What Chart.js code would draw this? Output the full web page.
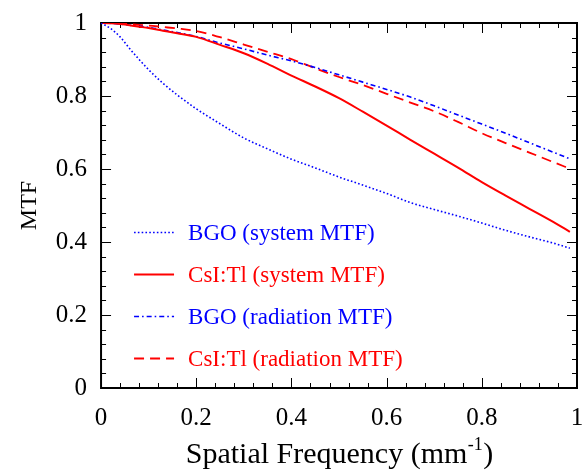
<!DOCTYPE html>
<html>
<head>
<meta charset="utf-8">
<script src="https://cdn.jsdelivr.net/npm/chart.js@4/dist/chart.umd.min.js"></script>
<style>
  html, body { margin: 0; padding: 0; background: #fff; }
  #wrap { width: 584px; height: 474px; }
</style>
</head>
<body>
<div id="wrap"><canvas id="myChart" width="584" height="474"></canvas></div>
<script>
'use strict';
// spatial frequency (mm^-1)
let freq = [0, 0.02, 0.04, 0.06, 0.08, 0.1, 0.13, 0.16, 0.2, 0.25, 0.3, 0.35, 0.4, 0.45, 0.5,
  0.55, 0.6, 0.65, 0.7, 0.75, 0.8, 0.85, 0.9, 0.95, 0.985];

let bgoSystem = [1.0, 0.985, 0.962, 0.930, 0.900, 0.872, 0.835, 0.803, 0.765, 0.724, 0.685, 0.655, 0.627, 0.603, 0.578,
  0.556, 0.533, 0.508, 0.489, 0.471, 0.452, 0.432, 0.414, 0.397, 0.383];
let csiSystem = [1.0, 0.999, 0.997, 0.994, 0.990, 0.986, 0.979, 0.972, 0.962, 0.940, 0.917, 0.888, 0.856, 0.826, 0.794,
  0.757, 0.719, 0.680, 0.642, 0.604, 0.564, 0.527, 0.491, 0.455, 0.428];
let bgoRadiation = [1.0, 0.999, 0.997, 0.994, 0.991, 0.988, 0.981, 0.974, 0.963, 0.945, 0.929, 0.912, 0.896, 0.878, 0.858,
  0.838, 0.818, 0.797, 0.773, 0.748, 0.723, 0.698, 0.672, 0.646, 0.628];
let csiRadiation = [1.0, 1.0, 0.999, 0.997, 0.995, 0.993, 0.989, 0.985, 0.978, 0.961, 0.941, 0.921, 0.901, 0.876, 0.852,
  0.830, 0.806, 0.782, 0.758, 0.729, 0.698, 0.671, 0.645, 0.619, 0.601];

let seriesNames = ['BGO (system MTF)', 'CsI:Tl (system MTF)', 'BGO (radiation MTF)', 'CsI:Tl (radiation MTF)'];
let xTicks = [0, 0.2, 0.4, 0.6, 0.8, 1];
let yTicks = [0, 0.2, 0.4, 0.6, 0.8, 1];

let serif = "'Liberation Serif', 'Times New Roman', serif";

function pts(vals) {
  let out = [];
  for (let i = 0; i < freq.length; i++) {
    out.push({ x: freq[i], y: vals[i] });
  }
  return out;
}

// box with inward ticks on all four sides
let frameTicks = {
  id: 'frameTicks',
  beforeDatasetsDraw(chart) {
    let ctx = chart.ctx;
    let a = chart.chartArea;
    let xs = chart.scales.x;
    let ys = chart.scales.y;
    ctx.save();
    ctx.strokeStyle = '#000';
    ctx.lineWidth = 1;
    for (let k = 0; k <= 25; k++) {
      let v = k * 0.04;
      let major = k % 5 === 0;
      let len = major ? 10 : 5;
      let px = Math.round(xs.getPixelForValue(v)) + 0.5;
      let py = Math.round(ys.getPixelForValue(v)) + 0.5;
      ctx.beginPath();
      ctx.moveTo(px, a.bottom); ctx.lineTo(px, a.bottom - len);
      ctx.moveTo(px, a.top); ctx.lineTo(px, a.top + len);
      ctx.moveTo(a.left, py); ctx.lineTo(a.left + len, py);
      ctx.moveTo(a.right, py); ctx.lineTo(a.right - len, py);
      ctx.stroke();
    }
    ctx.lineWidth = 2;
    ctx.strokeRect(a.left, a.top, a.right - a.left, a.bottom - a.top);
    ctx.restore();
  },
  afterDraw(chart) {
    // x axis title with superscript
    let ctx = chart.ctx;
    let a = chart.chartArea;
    let main = 'Spatial Frequency (mm';
    let sup = '-1';
    let end = ')';
    ctx.save();
    ctx.fillStyle = '#000';
    ctx.textBaseline = 'alphabetic';
    ctx.font = '30px ' + serif;
    let w1 = ctx.measureText(main).width;
    let w3 = ctx.measureText(end).width;
    ctx.font = '18px ' + serif;
    let w2 = ctx.measureText(sup).width;
    let x0 = (a.left + a.right) / 2 - (w1 + w2 + w3) / 2;
    let base = 463;
    ctx.font = '30px ' + serif;
    ctx.fillText(main, x0, base);
    ctx.fillText(end, x0 + w1 + w2 + 1, base);
    ctx.font = '18px ' + serif;
    ctx.fillText(sup, x0 + w1 + 0.5, base - 13);
    ctx.restore();
  }
};

// legend drawn inside the plot area
let innerLegend = {
  id: 'innerLegend',
  afterDatasetsDraw(chart) {
    let ctx = chart.ctx;
    let a = chart.chartArea;
    let h = a.bottom - a.top;
    ctx.save();
    ctx.font = '23px ' + serif;
    ctx.textBaseline = 'middle';
    chart.data.datasets.forEach(function (ds, i) {
      let y = Math.round(a.top + h * (0.573 + 0.1145 * i)) + 0.5;
      let x1 = a.left + 33;
      ctx.strokeStyle = ds.borderColor;
      ctx.lineWidth = ds.borderWidth;
      ctx.setLineDash(ds.borderDash || []);
      ctx.beginPath();
      ctx.moveTo(x1, y);
      ctx.lineTo(x1 + 40, y);
      ctx.stroke();
      ctx.setLineDash([]);
      ctx.fillStyle = ds.borderColor;
      ctx.fillText(ds.label, a.left + 87, y + 1);
    });
    ctx.restore();
  }
};

let ctx = document.getElementById('myChart').getContext('2d');
let myChart = new Chart(ctx, {
  type: 'line',
  data: {
    datasets: [{
      label: seriesNames[0],
      data: pts(bgoSystem),
      borderColor: '#0000ff',
      borderWidth: 1.6,
      borderDash: [1.6, 2.2]
    }, {
      label: seriesNames[1],
      data: pts(csiSystem),
      borderColor: '#ff0000',
      borderWidth: 2
    }, {
      label: seriesNames[2],
      data: pts(bgoRadiation),
      borderColor: '#0000ff',
      borderWidth: 1.6,
      borderDash: [5, 3, 1.6, 3]
    }, {
      label: seriesNames[3],
      data: pts(csiRadiation),
      borderColor: '#ff0000',
      borderWidth: 1.8,
      borderDash: [10, 6]
    }]
  },
  options: {
    responsive: false,
    animation: false,
    devicePixelRatio: 1,
    layout: { padding: { left: 15, right: 7, top: 23, bottom: 41 } },
    elements: {
      point: { radius: 0 },
      line: { cubicInterpolationMode: 'monotone', fill: false }
    },
    plugins: {
      legend: { display: false },
      tooltip: { enabled: false }
    },
    scales: {
      x: {
        type: 'linear',
        min: 0,
        max: 1,
        grid: { display: false, drawTicks: true, tickLength: 15 },
        border: { display: false },
        afterBuildTicks(scale) {
          scale.ticks = xTicks.map(v => ({ value: v }));
        },
        ticks: {
          padding: 0,
          maxRotation: 0,
          color: '#000',
          font: { family: serif, size: 25 },
          callback: v => String(+v.toFixed(1))
        }
      },
      y: {
        min: 0,
        max: 1,
        grid: { display: false, drawTicks: true, tickLength: 14 },
        border: { display: false },
        afterBuildTicks(scale) {
          scale.ticks = yTicks.map(v => ({ value: v }));
        },
        ticks: {
          padding: 0,
          color: '#000',
          font: { family: serif, size: 25 },
          callback: v => String(+v.toFixed(1))
        },
        title: {
          display: true,
          text: 'MTF',
          color: '#000',
          font: { family: serif, size: 24 },
          padding: { top: 0, bottom: 12 }
        }
      }
    }
  },
  plugins: [frameTicks, innerLegend]
});
</script>
</body>
</html>
